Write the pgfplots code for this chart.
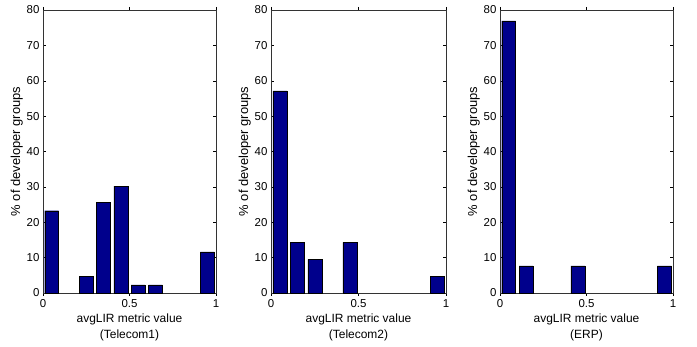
\documentclass[border=0pt]{standalone}
\usepackage{pgfplots}
\pgfplotsset{compat=1.18}
\usepackage{fontspec}
\setmainfont{Liberation Sans}
\definecolor{barblue}{RGB}{0,0,140}
\pgfplotsset{
  hist/.style={
    scale only axis,
    height=283bp,
    anchor=south west,
    xmin=0, xmax=1, ymin=0, ymax=80,
    xtick={0,0.5,1}, xticklabels={0,0.5,1},
    ytick={0,10,...,80},
    tick align=inside,
    major tick length=3bp,
    tick style={black, line width=0.4pt},
    axis line style={black!80, line width=0.5pt},
    /pgf/number format/assume math mode=true,
    tick label style={font=\fontsize{11.5}{12}\selectfont},
    xlabel style={font=\fontsize{12}{16.5}\selectfont, align=center, yshift=1bp},
    ylabel style={font=\fontsize{13}{14}\selectfont, yshift=-3bp},
    ylabel={\% of developer groups},
    ybar, bar width=0.08,
    clip=false,
  },
  histbar/.style={fill=barblue, draw=black, line width=0.4pt},
}
\begin{document}
\begin{tikzpicture}
\useasboundingbox (0,0) rectangle (697bp,347bp);
\begin{axis}[hist, at={(43bp,54bp)}, width=173bp,
  xlabel={avgLIR metric value\\(Telecom1)}]
\addplot[histbar] coordinates {
(0.05,23.26) (0.25,4.65) (0.35,25.58) (0.45,30.23) (0.55,2.33) (0.65,2.33) (0.95,11.63)};
\end{axis}
\begin{axis}[hist, at={(271bp,54bp)}, width=175bp,
  xlabel={avgLIR metric value\\(Telecom2)}]
\addplot[histbar] coordinates {
(0.05,57.14) (0.15,14.29) (0.25,9.52) (0.45,14.29) (0.95,4.76)};
\end{axis}
\begin{axis}[hist, at={(500bp,54bp)}, width=173bp,
  xlabel={avgLIR metric value\\(ERP)}]
\addplot[histbar] coordinates {
(0.05,76.92) (0.15,7.69) (0.45,7.69) (0.95,7.69)};
\end{axis}
\end{tikzpicture}
\end{document}
